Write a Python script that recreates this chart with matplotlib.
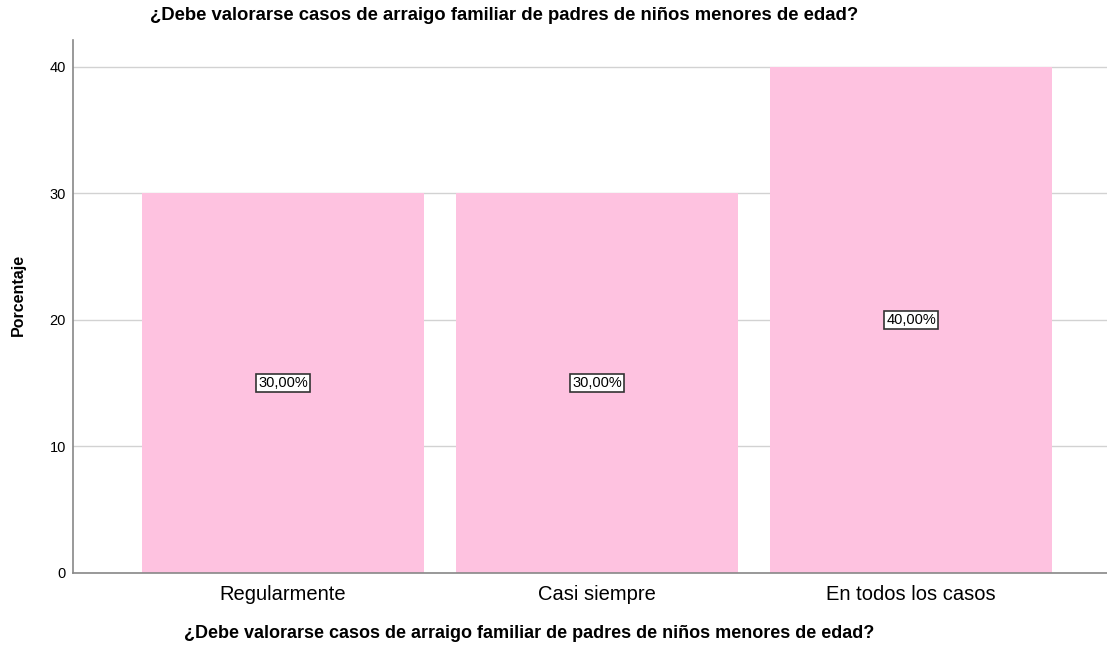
import matplotlib
matplotlib.use("Agg")
import matplotlib.pyplot as plt

categories = ["Regularmente", "Casi siempre", "En todos los casos"]
values = [30.0, 30.0, 40.0]
labels = ["30,00%", "30,00%", "40,00%"]
yticks = [0, 10, 20, 30, 40]
title = "¿Debe valorarse casos de arraigo familiar de padres de niños menores de edad?"

plt.rcParams['font.family'] = ['Liberation Sans', 'DejaVu Sans']

fig = plt.figure(figsize=(11.07, 6.48), dpi=100)
ax = fig.add_axes([73/1107, 1-573/648, (1107-73)/1107, (573-40)/648])

x = list(range(len(categories)))
ax.bar(x, values, width=0.898, color="#FEC2E0", zorder=2)
for xi, v, lab in zip(x, values, labels):
    ax.text(xi, v/2, lab, ha="center", va="center", fontsize=10.5, zorder=3,
            bbox=dict(boxstyle="square,pad=0.12", fc="white", ec="#333333", lw=1.2))

ax.set_xlim(-0.669, 2.624)
ax.set_ylim(0, 42.1)
ax.set_yticks(yticks)
ax.set_xticks(x)
ax.set_xticklabels(categories, fontsize=14.5)
ax.tick_params(axis="y", labelsize=10.5, length=0, pad=5)
ax.tick_params(axis="x", length=0, pad=9)
ax.yaxis.grid(True, color="#D2D2D2", lw=1, zorder=1)
for s in ["top", "right"]:
    ax.spines[s].set_visible(False)
ax.spines["left"].set_color("#888888")
ax.spines["bottom"].set_color("#888888")
ax.spines["left"].set_linewidth(1.2)
ax.spines["bottom"].set_linewidth(1.2)

fig.text(504/1107, 1 - 15/648, title, ha="center", va="center",
         fontsize=13.3, fontweight="bold")
fig.text(529/1107, 1 - 634/648, title, ha="center", va="center",
         fontsize=13, fontweight="bold")
fig.text(18/1107, 1 - 295/648, "Porcentaje", rotation=90, ha="center", va="center",
         fontsize=11.5, fontweight="bold")

fig.savefig("out.png", dpi=100)
